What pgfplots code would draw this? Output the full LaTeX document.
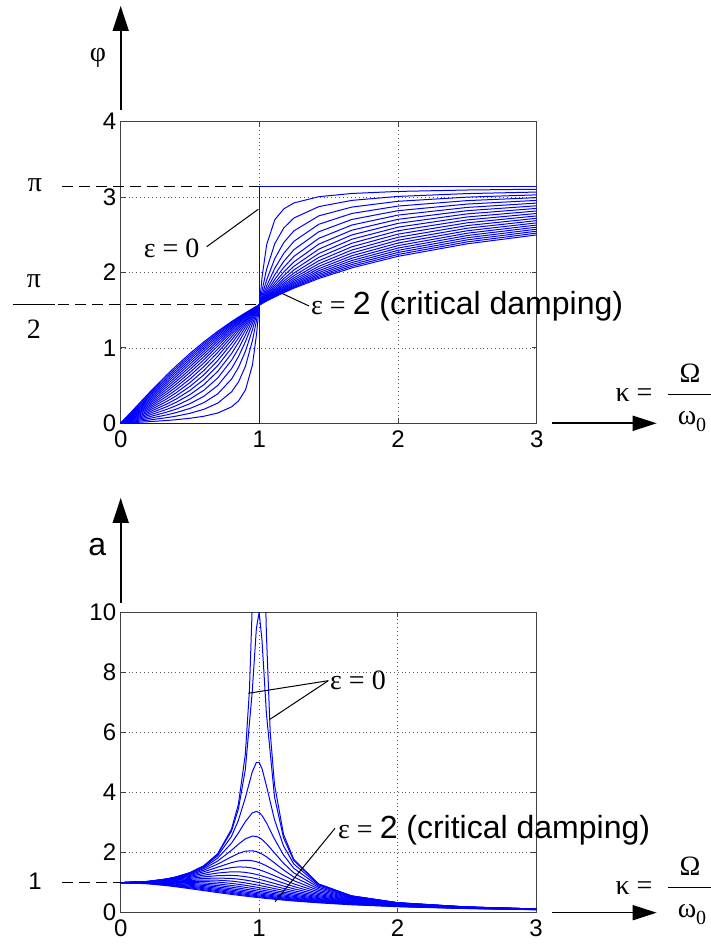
\documentclass[border=0pt]{standalone}
\usepackage{fontspec}
\setmainfont{Liberation Serif}
\newfontfamily\arial{Liberation Sans}
\usepackage{pgfplots}
\pgfplotsset{compat=1.18}
\usepackage{pgfplotstable}
\usetikzlibrary{arrows.meta}

\newcommand\tickfont{\arial\fontsize{24}{28}\selectfont}
\newcommand\grfont{\fontsize{28}{32}\selectfont}
\newcommand\annfont{\arial\fontsize{32}{36}\selectfont}

% phase phi(kappa) for eps = 0.1 ... 2.0 (columns e1..e20)
\pgfplotstableread{
k e1 e2 e3 e4 e5 e6 e7 e8 e9 e10 e11 e12 e13 e14 e15 e16 e17 e18 e19 e20
0 0 0 0 0 0 0 0 0 0 0 0 0 0 0 0 0 0 0 0 0
0.2 0.0208 0.0416 0.0624 0.0831 0.1038 0.1244 0.1448 0.1651 0.1853 0.2054 0.2253 0.2450 0.2645 0.2838 0.3029 0.3218 0.3404 0.3588 0.3769 0.3947
0.3333 0.0375 0.0749 0.1120 0.1489 0.1853 0.2213 0.2567 0.2915 0.3255 0.3588 0.3912 0.4229 0.4536 0.4835 0.5124 0.5404 0.5675 0.5938 0.6191 0.6435
0.4 0.0476 0.0950 0.1419 0.1882 0.2338 0.2783 0.3218 0.3640 0.4049 0.4444 0.4825 0.5192 0.5543 0.5880 0.6203 0.6511 0.6805 0.7086 0.7355 0.7610
0.5 0.0666 0.1326 0.1974 0.2606 0.3218 0.3805 0.4366 0.4900 0.5404 0.5880 0.6327 0.6747 0.7141 0.7509 0.7854 0.8177 0.8478 0.8761 0.9025 0.9273
0.6 0.0935 0.1853 0.2742 0.3588 0.4383 0.5124 0.5808 0.6435 0.7009 0.7532 0.8008 0.8441 0.8837 0.9197 0.9527 0.9828 1.0104 1.0358 1.0592 1.0808
0.7 0.1364 0.2679 0.3906 0.5021 0.6015 0.6889 0.7654 0.8321 0.8903 0.9412 0.9858 1.0251 1.0600 1.0910 1.1187 1.1435 1.1659 1.1862 1.2046 1.2214
0.8 0.2187 0.4182 0.5880 0.7267 0.8380 0.9273 0.9995 1.0584 1.1071 1.1479 1.1825 1.2120 1.2376 1.2598 1.2793 1.2966 1.3120 1.3258 1.3383 1.3495
0.85 0.2972 0.5496 0.7432 0.8863 0.9924 1.0725 1.1344 1.1834 1.2228 1.2552 1.2823 1.3052 1.3248 1.3417 1.3565 1.3695 1.3811 1.3914 1.4006 1.4090
0.9 0.4424 0.7584 0.9576 1.0852 1.1713 1.2325 1.2779 1.3128 1.3404 1.3627 1.3812 1.3966 1.4098 1.4211 1.4310 1.4396 1.4473 1.4541 1.4601 1.4656
0.95 0.7724 1.0967 1.2412 1.3196 1.3683 1.4014 1.4252 1.4432 1.4573 1.4685 1.4778 1.4855 1.4920 1.4976 1.5025 1.5068 1.5105 1.5138 1.5168 1.5195
0.98 1.1868 1.3714 1.4369 1.4701 1.4902 1.5036 1.5131 1.5203 1.5259 1.5304 1.5341 1.5371 1.5397 1.5420 1.5439 1.5455 1.5470 1.5484 1.5495 1.5506
1 1.5708 1.5708 1.5708 1.5708 1.5708 1.5708 1.5708 1.5708 1.5708 1.5708 1.5708 1.5708 1.5708 1.5708 1.5708 1.5708 1.5708 1.5708 1.5708 1.5708
1.0204 1.9548 1.7702 1.7047 1.6715 1.6514 1.6380 1.6285 1.6213 1.6157 1.6112 1.6075 1.6045 1.6019 1.5996 1.5977 1.5961 1.5946 1.5932 1.5921 1.5910
1.0526 2.3692 2.0449 1.9004 1.8220 1.7733 1.7402 1.7164 1.6984 1.6843 1.6731 1.6638 1.6561 1.6496 1.6440 1.6391 1.6348 1.6311 1.6278 1.6248 1.6221
1.1111 2.6992 2.3832 2.1840 2.0564 1.9703 1.9091 1.8637 1.8288 1.8012 1.7789 1.7604 1.7450 1.7318 1.7205 1.7106 1.7020 1.6943 1.6875 1.6815 1.6760
1.1765 2.8444 2.5920 2.3984 2.2553 2.1492 2.0691 2.0072 1.9582 1.9188 1.8864 1.8593 1.8364 1.8168 1.7999 1.7851 1.7721 1.7605 1.7502 1.7410 1.7326
1.25 2.9229 2.7234 2.5536 2.4149 2.3036 2.2143 2.1421 2.0832 2.0345 1.9937 1.9591 1.9296 1.9040 1.8818 1.8623 1.8450 1.8296 1.8158 1.8033 1.7921
1.4286 3.0052 2.8737 2.7510 2.6395 2.5401 2.4527 2.3762 2.3095 2.2513 2.2004 2.1558 2.1165 2.0816 2.0506 2.0229 1.9981 1.9757 1.9554 1.9370 1.9202
1.6667 3.0481 2.9563 2.8674 2.7828 2.7033 2.6292 2.5608 2.4981 2.4407 2.3884 2.3408 2.2975 2.2579 2.2219 2.1889 2.1588 2.1312 2.1058 2.0824 2.0608
2 3.0750 3.0090 2.9442 2.8810 2.8198 2.7611 2.7050 2.6516 2.6012 2.5536 2.5089 2.4669 2.4275 2.3907 2.3562 2.3239 2.2938 2.2655 2.2391 2.2143
2.5 3.0940 3.0466 2.9997 2.9534 2.9078 2.8633 2.8198 2.7776 2.7367 2.6972 2.6591 2.6224 2.5873 2.5536 2.5213 2.4905 2.4611 2.4330 2.4061 2.3806
3 3.1041 3.0667 3.0296 2.9927 2.9563 2.9203 2.8849 2.8501 2.8161 2.7828 2.7504 2.7187 2.6880 2.6581 2.6292 2.6012 2.5741 2.5478 2.5225 2.4981
}\phase

% amplitude a(kappa) for eps = 0.1 ... 2.0
\pgfplotstableread{
k e1 e2 e3 e4 e5 e6 e7 e8 e9 e10 e11 e12 e13 e14 e15 e16 e17 e18 e19 e20
0 1 1 1 1 1 1 1 1 1 1 1 1 1 1 1 1 1 1 1 1
0.2 1.0414 1.0408 1.0396 1.0381 1.0361 1.0336 1.0308 1.0275 1.0238 1.0198 1.0153 1.0106 1.0054 1.0000 0.9943 0.9882 0.9819 0.9753 0.9685 0.9615
0.3333 1.1242 1.1218 1.1180 1.1125 1.1057 1.0976 1.0881 1.0776 1.0659 1.0534 1.0400 1.0259 1.0112 0.9961 0.9805 0.9647 0.9486 0.9325 0.9162 0.9000
0.4 1.1891 1.1851 1.1785 1.1695 1.1581 1.1447 1.1294 1.1125 1.0942 1.0748 1.0546 1.0336 1.0122 0.9905 0.9687 0.9469 0.9253 0.9039 0.8828 0.8621
0.5 1.3304 1.3216 1.3074 1.2883 1.2649 1.2380 1.2082 1.1765 1.1433 1.1094 1.0752 1.0412 1.0076 0.9747 0.9428 0.9119 0.8822 0.8536 0.8262 0.8000
0.6 1.5557 1.5357 1.5042 1.4630 1.4148 1.3618 1.3063 1.2500 1.1942 1.1399 1.0877 1.0381 0.9911 0.9469 0.9055 0.8667 0.8305 0.7966 0.7649 0.7353
0.7 1.9426 1.8908 1.8131 1.7188 1.6167 1.5136 1.4139 1.3203 1.2337 1.1546 1.0827 1.0176 0.9586 0.9052 0.8567 0.8126 0.7724 0.7357 0.7020 0.6711
0.8 2.7116 2.5384 2.3113 2.0761 1.8582 1.6667 1.5021 1.3618 1.2423 1.1399 1.0518 0.9753 0.9086 0.8500 0.7982 0.7521 0.7108 0.6737 0.6402 0.6098
0.85 3.4456 3.0729 2.6534 2.2786 1.9702 1.7223 1.5232 1.3616 1.2288 1.1184 1.0253 0.9460 0.8777 0.8184 0.7664 0.7205 0.6796 0.6431 0.6103 0.5806
0.9 4.7565 3.8208 3.0289 2.4566 2.0472 1.7469 1.5197 1.3429 1.2019 1.0872 0.9920 0.9119 0.8437 0.7848 0.7335 0.6885 0.6486 0.6131 0.5812 0.5525
0.95 7.3459 4.6826 3.3199 2.5490 2.0623 1.7293 1.4879 1.3051 1.1621 1.0471 0.9528 0.8740 0.8072 0.7499 0.7001 0.6566 0.6181 0.5838 0.5532 0.5256
0.98 9.4609 5.0010 3.3710 2.5381 2.0342 1.6968 1.4553 1.2739 1.1326 1.0196 0.9270 0.8499 0.7845 0.7286 0.6800 0.6376 0.6001 0.5668 0.5369 0.5101
1 10 5 3.3333 2.5 2 1.6667 1.4286 1.25 1.1111 1 0.9091 0.8333 0.7692 0.7143 0.6667 0.625 0.5882 0.5556 0.5263 0.5
1.0204 9.0863 4.8030 3.2375 2.4376 1.9536 1.6296 1.3977 1.2235 1.0877 0.9792 0.8903 0.8162 0.7534 0.6997 0.6531 0.6123 0.5763 0.5444 0.5156 0.4899
1.0526 6.6297 4.2260 2.9962 2.3005 1.8612 1.5607 1.3428 1.1779 1.0488 0.9450 0.8599 0.7888 0.7285 0.6768 0.6318 0.5926 0.5578 0.5269 0.4993 0.4744
1.1111 3.8528 3.0948 2.4534 1.9898 1.6582 1.4150 1.2310 1.0877 0.9735 0.8806 0.8035 0.7386 0.6834 0.6357 0.5941 0.5577 0.5254 0.4966 0.4708 0.4475
1.1765 2.4894 2.2202 1.9171 1.6463 1.4235 1.2444 1.1005 0.9838 0.8878 0.8080 0.7408 0.6835 0.6341 0.5913 0.5537 0.5206 0.4910 0.4646 0.4409 0.4195
1.25 1.7354 1.6246 1.4792 1.3287 1.1892 1.0667 0.9613 0.8716 0.7951 0.7295 0.6732 0.6242 0.5815 0.5440 0.5108 0.4813 0.4549 0.4312 0.4097 0.3902
1.4286 0.9519 0.9265 0.8884 0.8422 0.7922 0.7417 0.6928 0.6469 0.6045 0.5658 0.5305 0.4986 0.4697 0.4435 0.4198 0.3982 0.3785 0.3605 0.3440 0.3289
1.6667 0.5601 0.5529 0.5415 0.5267 0.5093 0.4902 0.4703 0.4500 0.4299 0.4104 0.3916 0.3737 0.3568 0.3409 0.3260 0.3120 0.2990 0.2868 0.2754 0.2647
2 0.3326 0.3304 0.3269 0.3221 0.3162 0.3095 0.3021 0.2941 0.2858 0.2774 0.2688 0.2603 0.2519 0.2437 0.2357 0.2280 0.2206 0.2134 0.2066 0.2000
2.5 0.1903 0.1896 0.1886 0.1871 0.1853 0.1832 0.1807 0.1780 0.1751 0.1720 0.1687 0.1654 0.1620 0.1585 0.1550 0.1515 0.1480 0.1446 0.1412 0.1379
3 0.1249 0.1246 0.1242 0.1236 0.1229 0.1220 0.1209 0.1197 0.1184 0.1170 0.1156 0.1140 0.1124 0.1107 0.1089 0.1072 0.1054 0.1036 0.1018 0.1000
}\ampl

\pgfplotsset{mat/.style={scale only axis, anchor=south west,
  xmin=0, xmax=3, xtick={0,1,2,3},
  grid=major, grid style={black!65, line width=0.7pt, dash pattern=on 0.9pt off 3pt},
  axis line style={black!75, line width=0.8pt},
  tick style={black!75, line width=0.8pt},
  tick align=inside, major tick length=5pt,
  ticklabel style={font=\tickfont},
  /pgf/number format/assume math mode=true,
  xticklabel style={yshift=-4pt}, yticklabel style={xshift=-1pt}},
  curve/.style={blue, line width=1pt, no markers}}

\begin{document}
\begin{tikzpicture}[x=1pt,y=1pt]
\useasboundingbox (0,0) rectangle (710,952);

% phase
\begin{axis}[mat, at={(120.7pt,528.7pt)}, width=416pt, height=301.6pt,
  ymin=0, ymax=4, ytick={0,1,2,3,4}]
\pgfplotsinvokeforeach{1,...,20}{\addplot[curve] table[x=k,y=e#1]{\phase};}
\addplot[curve] coordinates {(0,0)(1,0)(1,3.1416)(3,3.1416)};
\end{axis}

% amplitude
\begin{axis}[mat, at={(120.7pt,39.3pt)}, width=415.3pt, height=300.4pt,
  ymin=0, ymax=10, ytick={0,2,4,6,8,10}]
\pgfplotsinvokeforeach{1,...,20}{\addplot[curve] table[x=k,y=e#1]{\ampl};}
\addplot[curve] coordinates {(0,1)(0.2,1.0417)(0.3333,1.125)(0.4,1.1905)(0.5,1.3333)
  (0.6,1.5625)(0.7,1.9608)(0.8,2.7778)(0.85,3.6036)(0.9,5.2632)(0.93,7.402)(0.9487,10.0)};
\addplot[curve] coordinates {(1.0488,10.0)(1.0526,9.2564)(1.08,6.0096)(1.1111,4.2632)(1.1765,2.6036)
  (1.25,1.7778)(1.4286,0.9608)(1.6667,0.5625)(2,0.3333)(2.5,0.1905)(3,0.125)};
\end{axis}

% --- annotations, upper panel
\draw[line width=1.6pt,-{Triangle[length=25pt,width=16pt]}] (120.7,842) -- (120.7,946);
\node[font=\grfont] at (98,894) {φ};
\node[font=\grfont] at (35,767) {π};
\draw[line width=1.2pt,dash pattern=on 11pt off 6pt] (62,765.6) -- (259.4,765.6);
\node[font=\grfont] at (34,671) {π};
\draw[line width=1pt] (13,647.1) -- (55,647.1);
\node[font=\grfont] at (34,623) {2};
\draw[line width=1.2pt,dash pattern=on 11pt off 6pt] (58,647.1) -- (259.4,647.1);
\node[font=\grfont] at (171.7,703.7) {ε = 0};
\draw[line width=1pt] (206.7,705.3) -- (258.3,742.7);
\draw[line width=1pt] (281.7,658.7) -- (309,646);
\node[anchor=west,inner sep=0pt,font=\grfont] at (311,645.3) {ε = {\annfont 2 (critical damping)}};
\draw[line width=1.6pt,-{Triangle[length=24pt,width=15pt]}] (551.7,528.7) -- (656.7,528.7);
\node[font=\grfont] at (634,557) {κ =};
\node[font=\grfont] at (690,579) {Ω};
\draw[line width=1pt] (668,557) -- (714,557);
\node[font=\grfont] at (692,530) {ω\raisebox{-0.25em}{\fontsize{20}{22}\selectfont 0}};

% --- annotations, lower panel
\draw[line width=1.6pt,-{Triangle[length=25pt,width=16pt]}] (120.7,349.3) -- (120.7,454);
\node[font=\annfont] at (97.3,404.7) {a};
\node[font=\tickfont] at (35,70.3) {1};
\draw[line width=1.2pt,dash pattern=on 11pt off 6pt] (62,69.3) -- (120.7,69.3);
\node[anchor=west,inner sep=0pt,font=\grfont] at (330,272) {ε = 0};
\draw[line width=1pt] (328.3,271.3) -- (248.3,258.7);
\draw[line width=1pt] (328.3,271.3) -- (270,232.7);
\draw[line width=1pt] (335,123.7) -- (275,50.3);
\node[anchor=west,inner sep=0pt,font=\grfont] at (338,122) {ε = {\annfont 2 (critical damping)}};
\draw[line width=1.6pt,-{Triangle[length=24pt,width=15pt]}] (551.7,39.3) -- (656.7,39.3);
\node[font=\grfont] at (634,64) {κ =};
\node[font=\grfont] at (690,86) {Ω};
\draw[line width=1pt] (668,64) -- (714,64);
\node[font=\grfont] at (692,37) {ω\raisebox{-0.25em}{\fontsize{20}{22}\selectfont 0}};
\end{tikzpicture}
\end{document}
